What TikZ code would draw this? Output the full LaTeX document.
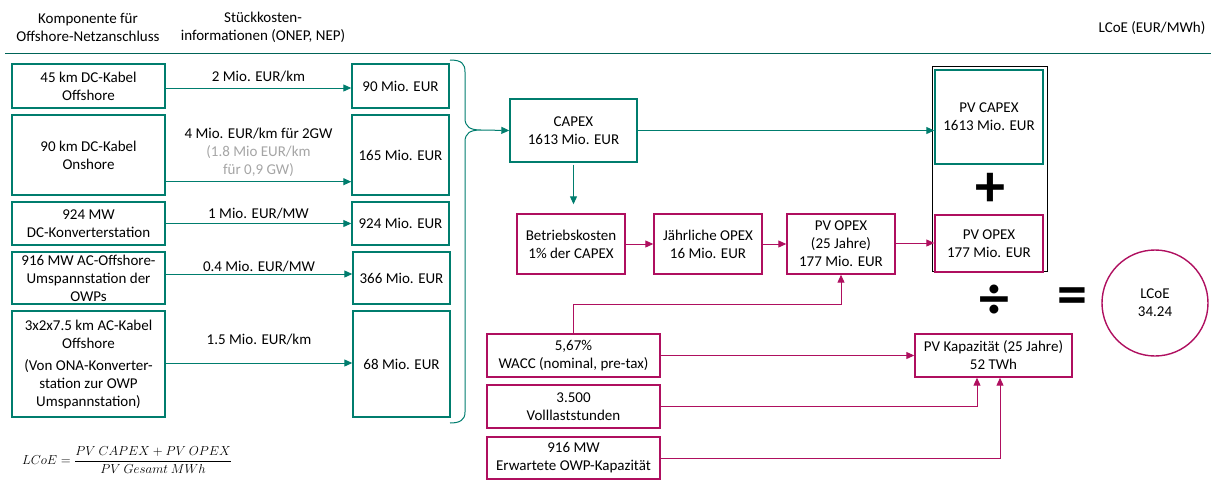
\documentclass[tikz,border=0pt]{standalone}
\usepackage{amsmath}
\usepackage{fontspec}
\setmainfont{Carlito}
\usetikzlibrary{arrows.meta}
\definecolor{petrol}{RGB}{0,125,110}
\definecolor{beere}{RGB}{175,15,95}
\definecolor{grau}{RGB}{165,165,165}

\begin{document}
\begin{tikzpicture}[x=1pt,y=-1pt,font=\fontsize{15}{18}\selectfont,
    gbox/.style={draw=petrol,line width=1.4pt,align=center,inner sep=0pt},
    rbox/.style={draw=beere,line width=1.4pt,align=center,inner sep=0pt},
    garr/.style={draw=petrol,line width=1pt,-{Triangle[length=8pt,width=7pt]}},
    rarr/.style={draw=beere,line width=1pt,-{Triangle[length=8pt,width=7pt]}},
    zeichen/.style={font=\fontsize{60}{60}\selectfont\bfseries,inner sep=0pt}]
  \useasboundingbox (0,0) rectangle (1211,480);
  % Kopfzeile
  \node[align=center] (hkomp) at (88,27) {Komponente für\\Offshore-Netzanschluss};
  \node[align=center] (hstk) at (263,27) {Stückkosten-\\informationen (ONEP, NEP)};
  \node (hlcoe) at (1152,28) {LCoE (EUR/MWh)};
  \draw[petrol!80!black,line width=0.8pt] (5,53) -- (1211,53);
  % Komponenten links
  \node[gbox,minimum width=153pt,minimum height=44pt] (k1) at (88.5,86) {45 km DC-Kabel\\Offshore};
  \node[gbox,minimum width=153pt,minimum height=80pt] (k2) at (88.5,155) {90 km DC-Kabel\\Onshore};
  \node[gbox,minimum width=153pt,minimum height=43pt] (k3) at (88.5,223.5) {924 MW\\DC-Konverterstation};
  \node[gbox,minimum width=153pt,minimum height=52pt] (k4) at (88.5,278) {916 MW AC-Offshore-\\Umspannstation der\\OWPs};
  \node[gbox,minimum width=153pt,minimum height=106pt] (k5) at (88.5,364) {3x2x7.5 km AC-Kabel\\Offshore\\[4pt](Von ONA-Konverter-\\station zur OWP\\Umspannstation)};
  % Kosten
  \node[gbox,minimum width=97pt,minimum height=44pt] (e1) at (400.5,86) {90 Mio. EUR};
  \node[gbox,minimum width=97pt,minimum height=80pt] (e2) at (400.5,155) {165 Mio. EUR};
  \node[gbox,minimum width=97pt,minimum height=43pt] (e3) at (400.5,223.5) {924 Mio. EUR};
  \node[gbox,minimum width=97pt,minimum height=52pt] (e4) at (401.5,278) {366 Mio. EUR};
  \node[gbox,minimum width=97pt,minimum height=106pt] (e5) at (401.5,364) {68 Mio. EUR};
  \draw[garr] ([yshift=-2pt]k1.east) -- ([yshift=-2pt]k1.east -| e1.west) node[midway,above=2pt] {2 Mio. EUR/km};
  \draw[garr] ([yshift=14pt]k2.south east) -- ([yshift=14pt]k2.south east -| e2.west)
    node[midway,above=1pt,align=center] {4 Mio. EUR/km für 2GW\\\textcolor{grau}{(1.8 Mio EUR/km}\\\textcolor{grau}{für 0,9 GW)}};
  \draw[garr] (k3.east) -- (k3.east -| e3.west) node[midway,above=1pt] {1 Mio. EUR/MW};
  \draw[garr] ([yshift=4pt]k4.east) -- ([yshift=4pt]k4.east -| e4.west) node[midway,above=-2pt] {0.4 Mio. EUR/MW};
  \draw[garr] ([yshift=1pt]k5.east) -- ([yshift=1pt]k5.east -| e5.west) node[midway,above=14pt] {1.5 Mio. EUR/km};
  % Klammer
  \coordinate (spitze) at (481,130);
  \draw[petrol,line width=1pt] (450,60) .. controls (462,60) and (465,64) .. (465,72) -- (465,118)
    .. controls (465,127) and (470,130) .. (spitze)
    .. controls (470,130) and (465,133) .. (465,142) -- (465,412)
    .. controls (465,420) and (460,423) .. (450,423);
  % CAPEX / OPEX
  \node[gbox,minimum width=127pt,minimum height=63pt] (capex) at (573.5,130.5) {CAPEX\\1613 Mio. EUR};
  \draw[garr] (spitze) -- (capex.west);
  \node[rbox,minimum width=108pt,minimum height=60pt] (betrieb) at (571,244) {Betriebskosten\\1\% der CAPEX};
  \node[rbox,minimum width=108pt,minimum height=60pt] (jopex) at (708,244) {Jährliche OPEX\\16 Mio. EUR};
  \node[rbox,minimum width=108pt,minimum height=60pt] (opex25) at (841,244) {PV OPEX\\(25 Jahre)\\177 Mio. EUR};
  \draw[garr,shorten <=2pt,shorten >=9pt] (capex.south) -- (capex.south |- betrieb.north);
  \draw[rarr] (betrieb) -- (jopex);
  \draw[rarr] (jopex) -- (opex25);
  % Summe
  \node[draw=black,line width=0.8pt,minimum width=115pt,minimum height=205pt] (summe) at (989.5,168.5) {};
  \node[gbox,minimum width=108pt,minimum height=94pt] (pvcapex) at (989,117) {PV CAPEX\\1613 Mio. EUR};
  \node[rbox,minimum width=108pt,minimum height=57pt] (pvopex) at (989,243.5) {PV OPEX\\177 Mio. EUR};
  \node[zeichen] (plus) at (990,190) {+};
  \draw[garr] (capex.east) -- (capex.east -| pvcapex.west);
  \draw[rarr] ([yshift=1pt]opex25.east) -- ([yshift=1pt]opex25.east -| pvopex.west);
  \node[zeichen] (geteilt) at (994,302) {÷};
  \node[zeichen] (gleich) at (1072,301) {=};
  \node[draw=beere,line width=1.4pt,circle,minimum size=106pt,align=center,inner sep=0pt] (lcoe) at (1155,303) {LCoE\\34.24};
  % Kapazitaet
  \node[rbox,minimum width=157pt,minimum height=43pt] (kap) at (993.5,355.5) {PV Kapazität (25 Jahre)\\52 TWh};
  \node[rbox,minimum width=173pt,minimum height=43pt] (wacc) at (573.5,355.5) {5,67\%\\WACC (nominal, pre-tax)};
  \node[rbox,minimum width=173pt,minimum height=43pt] (voll) at (573.5,406.5) {3.500\\Volllaststunden};
  \node[rbox,minimum width=173pt,minimum height=42pt] (owp) at (573.5,458) {916 MW\\Erwartete OWP-Kapazität};
  \draw[rarr] (wacc.north) -- ++(0,-29) -| (opex25.south);
  \draw[rarr] (wacc) -- (kap);
  \draw[rarr] (voll) -| ([xshift=-16.5pt]kap.south);
  \draw[rarr] (owp) -| ([xshift=6.5pt]kap.south);
  % Formel
  \node[font=\fontsize{14}{17}\selectfont,scale=0.905] (formel) at (127,460) {$LCoE=\dfrac{PV\ CAPEX+PV\ OPEX}{PV\ Gesamt\ MWh}$};
\end{tikzpicture}
\end{document}
